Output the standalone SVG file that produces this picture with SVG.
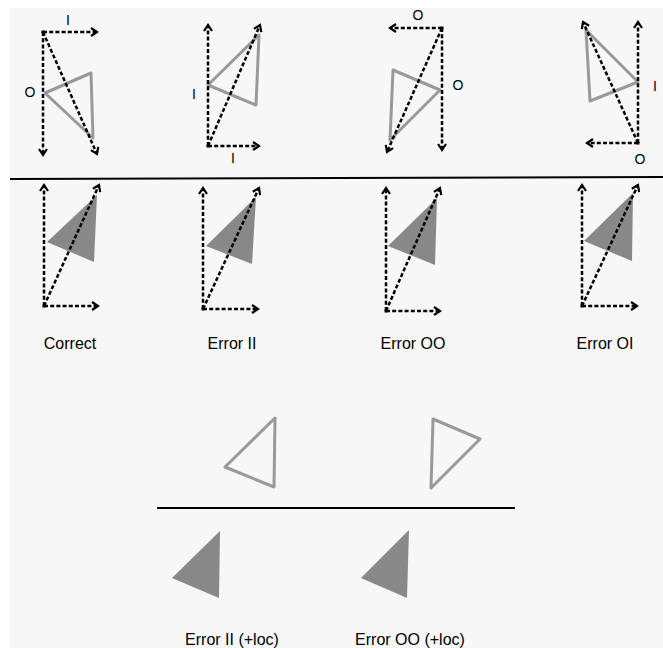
<svg xmlns="http://www.w3.org/2000/svg" width="663" height="648" viewBox="0 0 663 648">
  <style>
    .vec { stroke: #000; stroke-width: 2.5; stroke-dasharray: 4 2.2; fill: none; marker-end: url(#ah); }
    .tri { fill: none; stroke: #999; stroke-width: 3; stroke-linejoin: round; }
    .solid { fill: #888; stroke: none; }
    .lbl { font-family: "Liberation Sans", Arial, sans-serif; font-size: 14px; fill: #000; text-anchor: middle; }
    .cap { font-family: "Liberation Sans", Arial, sans-serif; font-size: 16px; fill: #000; text-anchor: middle; }
    .rule { stroke: #000; stroke-width: 2; }
  </style>
  <defs>
    <marker id="ah" markerWidth="10" markerHeight="10" refX="8" refY="5" orient="auto" markerUnits="userSpaceOnUse">
      <path d="M2,1 L8,5 L2,9" fill="none" stroke="#000" stroke-width="2.2" stroke-dasharray="none"/>
    </marker>
  </defs>

  <rect x="0" y="0" width="663" height="648" fill="#fff"/>
  <rect x="10" y="8" width="653" height="640" fill="#f7f7f7"/>

  <!-- top row: transformed triangles with their axes -->
  <g id="top-correct">
    <polygon class="tri" points="45,93 91,73 93,138"/>
    <line class="vec" x1="43" y1="32" x2="97" y2="32"/>
    <line class="vec" x1="43" y1="32" x2="43" y2="155"/>
    <line class="vec" x1="43" y1="32" x2="97" y2="154"/>
    <rect x="41.5" y="30.5" width="3" height="3"/>
    <text class="lbl" x="68" y="25">I</text>
    <text class="lbl" x="30" y="97">O</text>
  </g>

  <g id="top-error-ii">
    <polygon class="tri" points="208,85 259,35 256,105"/>
    <line class="vec" x1="208" y1="146" x2="208" y2="25"/>
    <line class="vec" x1="208" y1="146" x2="259" y2="146"/>
    <line class="vec" x1="208" y1="146" x2="260" y2="25"/>
    <rect x="206.5" y="144.5" width="3" height="3"/>
    <text class="lbl" x="194" y="99">I</text>
    <text class="lbl" x="233" y="163">I</text>
  </g>

  <g id="top-error-oo">
    <polygon class="tri" points="393,70 440,90 390,140"/>
    <line class="vec" x1="442" y1="28" x2="390" y2="28"/>
    <line class="vec" x1="442" y1="28" x2="442" y2="150"/>
    <line class="vec" x1="442" y1="28" x2="387" y2="152"/>
    <rect x="440.5" y="26.5" width="3" height="3"/>
    <text class="lbl" x="418" y="20">O</text>
    <text class="lbl" x="458" y="90">O</text>
  </g>

  <g id="top-error-oi">
    <polygon class="tri" points="586,30 638,82 590,101"/>
    <line class="vec" x1="638" y1="143" x2="638" y2="22"/>
    <line class="vec" x1="638" y1="143" x2="587" y2="143"/>
    <line class="vec" x1="638" y1="143" x2="583" y2="22"/>
    <rect x="636.5" y="141.5" width="3" height="3"/>
    <text class="lbl" x="655" y="91">I</text>
    <text class="lbl" x="640" y="164">O</text>
  </g>

  <line class="rule" x1="10" y1="179" x2="663" y2="177"/>

  <!-- second row: resulting percepts -->
  <g id="res-correct">
    <polygon class="solid" points="47,242 97,195 94,262"/>
    <line class="vec" x1="44" y1="306" x2="44" y2="185"/>
    <line class="vec" x1="44" y1="306" x2="98" y2="306"/>
    <line class="vec" x1="44" y1="306" x2="99" y2="185"/>
    <rect x="42.5" y="304.5" width="3" height="3"/>
    <text class="cap" x="70" y="349">Correct</text>
  </g>

  <g id="res-error-ii">
    <polygon class="solid" points="206,246 256,197 252,264"/>
    <line class="vec" x1="203" y1="309" x2="203" y2="188"/>
    <line class="vec" x1="203" y1="309" x2="258" y2="309"/>
    <line class="vec" x1="203" y1="309" x2="259" y2="188"/>
    <rect x="201.5" y="307.5" width="3" height="3"/>
    <text class="cap" x="232" y="349">Error II</text>
  </g>

  <g id="res-error-oo">
    <polygon class="solid" points="388,246 437,198 435,265"/>
    <line class="vec" x1="386" y1="311" x2="386" y2="188"/>
    <line class="vec" x1="386" y1="311" x2="440" y2="311"/>
    <line class="vec" x1="386" y1="311" x2="440" y2="188"/>
    <rect x="384.5" y="309.5" width="3" height="3"/>
    <text class="cap" x="413" y="349">Error OO</text>
  </g>

  <g id="res-error-oi">
    <polygon class="solid" points="584,241 633,193 632,261"/>
    <line class="vec" x1="582" y1="306" x2="582" y2="185"/>
    <line class="vec" x1="582" y1="306" x2="637" y2="306"/>
    <line class="vec" x1="582" y1="306" x2="638" y2="185"/>
    <rect x="580.5" y="304.5" width="3" height="3"/>
    <text class="cap" x="605" y="349">Error OI</text>
  </g>

  <!-- lower section: location errors -->
  <g id="loc-ii-outline">
    <polygon class="tri" points="225,467 275,418 274,487"/>
  </g>
  <g id="loc-oo-outline">
    <polygon class="tri" points="433,419 480,439 431,488"/>
  </g>

  <line class="rule" x1="157" y1="508" x2="515" y2="508"/>

  <g id="loc-ii">
    <polygon class="solid" points="172,578 220,531 219,598"/>
    <text class="cap" x="232" y="645">Error II (+loc)</text>
  </g>
  <g id="loc-oo">
    <polygon class="solid" points="361,578 409,530 407,598"/>
    <text class="cap" x="410" y="645">Error OO (+loc)</text>
  </g>
</svg>
